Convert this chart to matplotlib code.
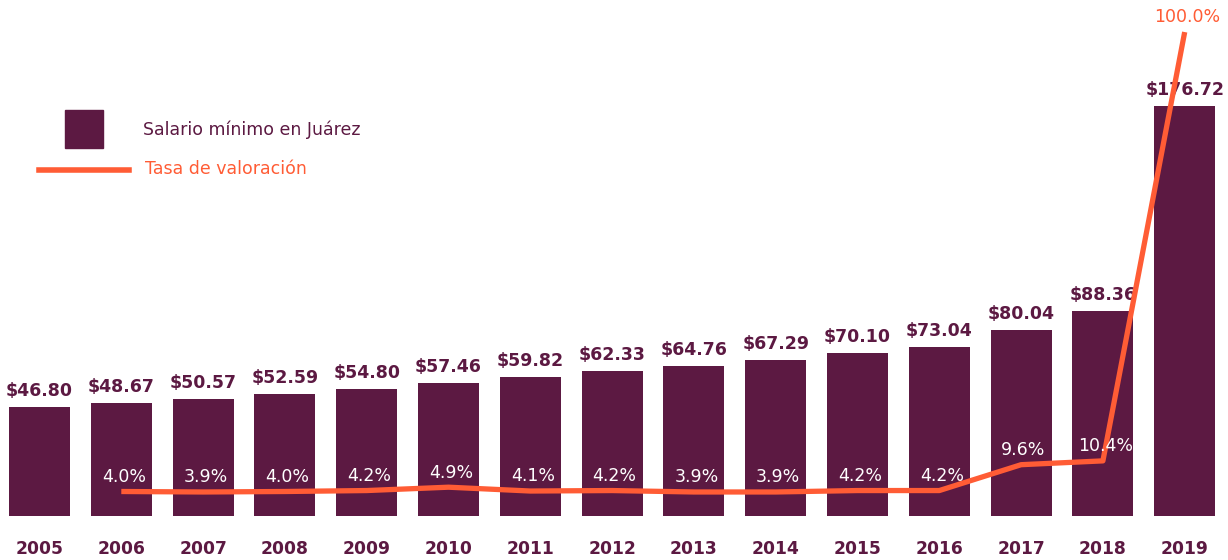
import numpy as np
import matplotlib
matplotlib.use("Agg")
from matplotlib import pyplot as plt
from matplotlib.patches import Rectangle
from matplotlib.lines import Line2D

# Data
years = ['2005', '2006', '2007', '2008', '2009', '2010', '2011', '2012',
         '2013', '2014', '2015', '2016', '2017', '2018', '2019']
salario = [46.80, 48.67, 50.57, 52.59, 54.80, 57.46, 59.82, 62.33,
           64.76, 67.29, 70.10, 73.04, 80.04, 88.36, 176.72]
# growth rate starts in 2006
tasa = [4.0, 3.9, 4.0, 4.2, 4.9, 4.1, 4.2, 3.9, 3.9, 4.2, 4.2, 9.6, 10.4, 100.0]

PLUM = '#5C1942'
ORANGE = '#FF5C35'

fig = plt.figure(figsize=(12.28, 5.6), dpi=100)
ax = fig.add_axes([0, 44 / 560, 1, 516 / 560])

x = np.arange(len(years))
ax.bar(x, salario, width=0.746, color=PLUM, zorder=1)
for xi, v in zip(x, salario):
    ax.annotate(f'${v:.2f}', (xi, v), xytext=(0, 5), textcoords='offset points',
                ha='center', va='bottom', fontsize=12.5, fontweight='bold',
                color=PLUM)

ax.set_xlim(-39.5 / 81.8, (1228 - 39.5) / 81.8)
ax.set_ylim(0, 516 / 2.32)
ax.set_xticks(x, years)
ax.tick_params(axis='x', length=0, pad=17, labelsize=12.3, colors=PLUM)
for lbl in ax.get_xticklabels():
    lbl.set_fontweight('bold')
ax.set_yticks([])
for s in ax.spines.values():
    s.set_visible(False)

# rate line on a secondary axis
ax2 = ax.twinx()
ax2.set_ylim(4 - 24.5 / 4.786, 4 + 491.5 / 4.786)
ax2.set_yticks([])
for s in ax2.spines.values():
    s.set_visible(False)
xr = x[1:]
ax2.plot(xr, tasa, color=ORANGE, lw=3.8, solid_capstyle='butt', zorder=3)
for xi, v in zip(xr, tasa):
    c = ORANGE if v >= 100 else 'white'
    ax2.annotate(f'{v:.1f}%', (xi + 0.03, v), xytext=(0, 4), textcoords='offset points',
                 ha='center', va='bottom', fontsize=12.5, color=c, zorder=4)

# legend drawn by hand
fig.patches.append(Rectangle((65 / 1228, (560 - 148) / 560), 38 / 1228, 38 / 560,
                             transform=fig.transFigure, color=PLUM))
fig.text(143 / 1228, (560 - 130) / 560, 'Salario mínimo en Juárez',
         color=PLUM, fontsize=12.5, va='center', ha='left')
fig.lines.append(Line2D([39 / 1228, 129 / 1228], [(560 - 170) / 560] * 2,
                        transform=fig.transFigure, color=ORANGE, lw=4))
fig.text(145 / 1228, (560 - 169) / 560, 'Tasa de valoración',
         color=ORANGE, fontsize=12.5, va='center', ha='left')

fig.savefig('out.png', dpi=100)
